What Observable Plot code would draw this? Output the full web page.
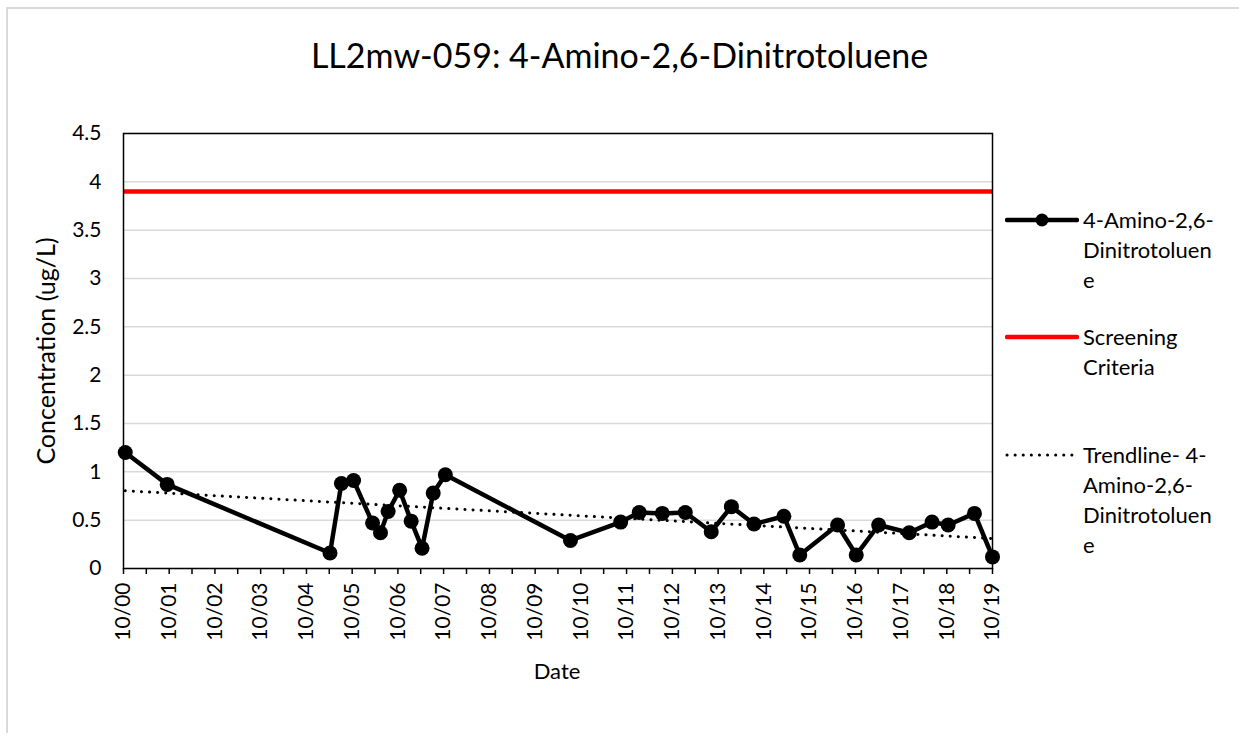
<!DOCTYPE html>
<html>
<head>
<meta charset="utf-8">
<script src="https://cdn.jsdelivr.net/npm/d3@7"></script>
<script src="https://cdn.jsdelivr.net/npm/@observablehq/plot@0.6"></script>
<style>
  html, body { margin: 0; padding: 0; background: #fff; }
  #wrap { position: relative; width: 1239px; height: 733px; overflow: hidden; font-family: Lato, "Noto Sans", sans-serif; color: #000; }
  #border { position: absolute; left: 6px; top: 7px; width: 1300px; height: 800px; border: 2px solid #d9d9d9; box-sizing: border-box; }
  .abs { position: absolute; white-space: nowrap; }
  #title { left: 0; width: 1239px; top: 54px; transform: translateY(-50%); text-align: center; font-size: 34px; }
  #ytitle { left: 45px; top: 351px; transform: translate(-50%, -50%) rotate(-90deg); font-size: 25px; }
  #xtitle { left: 557px; top: 670px; transform: translate(-50%, -50%); font-size: 22px; }
  .leg { position: absolute; left: 1005px; font-size: 22px; line-height: 30px; }
  .leg svg { position: absolute; left: 0; top: 0; }
  .leg .txt { position: absolute; left: 78px; top: 0; white-space: nowrap; }
  #plot { position: absolute; left: 0; top: 0; }
</style>
</head>
<body>
<div id="wrap">
  <div id="border"></div>
  <div id="plot"></div>
  <div class="abs" id="title"></div>
  <div class="abs" id="ytitle"></div>
  <div class="abs" id="xtitle"></div>
  <div id="legend"></div>
</div>
<script>
// ---- data ----
const sampleDates = [
  "2000-10-15","2001-09-15","2005-04-07","2005-07-07","2005-10-12","2006-03-13",
  "2006-05-15","2006-07-15","2006-10-15","2007-01-15","2007-04-12","2007-07-10",
  "2007-10-15","2010-07-10","2011-08-15","2012-01-10","2012-07-12","2013-01-12",
  "2013-08-07","2014-01-15","2014-07-15","2015-03-10","2015-07-15","2016-05-12",
  "2016-10-08","2017-04-05","2017-12-05","2018-06-05","2018-10-12","2019-05-10",
  "2019-10-01"
];
const concentrations = [
  1.2, 0.87, 0.16, 0.88, 0.91, 0.47, 0.37, 0.59, 0.81, 0.49, 0.21, 0.78,
  0.97, 0.29, 0.48, 0.58, 0.57, 0.58, 0.38, 0.64, 0.46, 0.54, 0.14, 0.45,
  0.14, 0.45, 0.37, 0.48, 0.45, 0.57, 0.12
];
const screeningCriteria = 3.9;
const xDomain = ["2000-10-01", "2019-10-01"];
const tickYears = [2000, 2001, 2002, 2003, 2004, 2005, 2006, 2007, 2008, 2009,
                   2010, 2011, 2012, 2013, 2014, 2015, 2016, 2017, 2018, 2019];
const yTicks = [0, 0.5, 1, 1.5, 2, 2.5, 3, 3.5, 4, 4.5];
const titleText = "LL2mw-059: 4-Amino-2,6-Dinitrotoluene";
const yTitle = "Concentration (ug/L)";
const xTitle = "Date";
const legendItems = [
  {lines: ["4-Amino-2,6-", "Dinitrotoluen", "e"], kind: "series", top: 205},
  {lines: ["Screening", "Criteria"], kind: "criteria", top: 322},
  {lines: ["Trendline- 4-", "Amino-2,6-", "Dinitrotoluen", "e"], kind: "trend", top: 440}
];

// ---- build ----
const data = sampleDates.map((d, i) => ({date: new Date(d), value: concentrations[i]}));
const dom = xDomain.map(d => new Date(d));
const majorTicks = tickYears.map(y => new Date(Date.UTC(y, 9, 1)));
const minorTicks = tickYears.slice(0, -1).map(y => new Date(Date.UTC(y + 1, 3, 1)));
const fmt = d3.utcFormat("%m/%y");

const chart = Plot.plot({
  width: 1239,
  height: 733,
  marginLeft: 123,
  marginRight: 247,
  marginTop: 133,
  marginBottom: 165,
  style: {fontFamily: "Lato, 'Noto Sans', sans-serif", color: "#000", background: "transparent", overflow: "visible"},
  x: {type: "utc", domain: dom},
  y: {domain: [0, 4.5]},
  marks: [
    Plot.gridY(yTicks, {stroke: "#d9d9d9", strokeOpacity: 1, strokeWidth: 1.5}),
    Plot.axisY(yTicks, {tickSize: 0, tickPadding: 22, fontSize: 21, tickFormat: d => String(d), label: null}),
    Plot.axisX(minorTicks, {tickSize: 6, tickFormat: () => "", label: null, strokeWidth: 1.5}),
    Plot.axisX(majorTicks, {tickSize: 6, tickPadding: 8, tickRotate: -90, fontSize: 21, tickFormat: fmt, label: null, strokeWidth: 1.5}),
    Plot.ruleY([screeningCriteria], {stroke: "#ff0000", strokeWidth: 4.5}),
    Plot.linearRegressionY(data, {x: "date", y: "value", stroke: "#000", strokeWidth: 3, strokeDasharray: "0.1 8", strokeLinecap: "round", ci: 0}),
    Plot.line(data, {x: "date", y: "value", stroke: "#000", strokeWidth: 4.5, strokeLinejoin: "round"}),
    Plot.dot(data, {x: "date", y: "value", r: 7.5, fill: "#000", stroke: "none"}),
    Plot.frame({stroke: "#000", strokeWidth: 1.5})
  ]
});
document.getElementById("plot").appendChild(chart);
document.getElementById("title").textContent = titleText;
document.getElementById("ytitle").textContent = yTitle;
document.getElementById("xtitle").textContent = xTitle;

const legend = document.getElementById("legend");
for (const item of legendItems) {
  const div = document.createElement("div");
  div.className = "leg";
  div.style.top = item.top + "px";
  let sw = "";
  if (item.kind === "series") {
    sw = `<svg width="74" height="30"><line x1="2" x2="72" y1="15" y2="15" stroke="#000" stroke-width="4.5" stroke-linecap="round"/><circle cx="37" cy="15" r="6.5" fill="#000"/></svg>`;
  } else if (item.kind === "criteria") {
    sw = `<svg width="74" height="30"><line x1="2" x2="72" y1="15" y2="15" stroke="#ff0000" stroke-width="4.5" stroke-linecap="round"/></svg>`;
  } else {
    sw = `<svg width="74" height="30"><line x1="2" x2="72" y1="15" y2="15" stroke="#000" stroke-width="3" stroke-dasharray="0.1 8" stroke-linecap="round"/></svg>`;
  }
  div.innerHTML = sw + `<div class="txt">${item.lines.join("<br>")}</div>`;
  legend.appendChild(div);
}
</script>
</body>
</html>
